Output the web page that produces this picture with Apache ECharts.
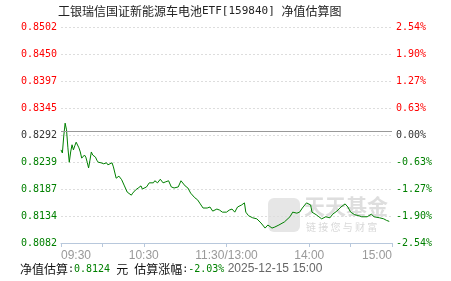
<!DOCTYPE html>
<html><head><meta charset="utf-8">
<script src="https://cdn.jsdelivr.net/npm/echarts@6/dist/echarts.min.js"></script>
<style>html,body{margin:0;padding:0;background:#fff}#c{width:451px;height:281px}</style>
</head><body><div id="c"></div>
<script>
var titleName = '工银瑞信国证新能源车电池';
var titleCode = 'ETF[159840] ';
var titleTail = '净值估算图';
var baseValue = 0.8292;
var yMin = 0.8082, yMax = 0.8502;
var leftTickValues = [0.8082, 0.81345, 0.8187, 0.82395, 0.8292, 0.83445, 0.8397, 0.84495, 0.8502];
var leftTickLabels = ['0.8082','0.8134','0.8187','0.8239','0.8292','0.8345','0.8397','0.8450','0.8502'];
var rightTickLabels = ['-2.54%','-1.90%','-1.27%','-0.63%','0.00%','0.63%','1.27%','1.90%','2.54%'];
var timeLabelMinutes = [0, 60, 120, 180, 240];
var timeLabels = ['09:30','10:30','11:30/13:00','14:00','15:00'];
var tickMinutes = [0, 30, 60, 120, 180, 210, 240];
var minutes = [0,1,2,3,4,5,6,7,8,9,10,11,13,14,15,17,18,19,20,21,22,23,25,26,27,29,31,33,34,35,37,38,39,40,42,44,46,48,51,52,54,56,58,59,62,64,67,68,70,72,74,76,78,80,82,85,87,90,92,94,97,99,101,103,106,108,110,113,115,117,120,122,124,126,128,131,133,134,136,139,142,145,148,150,153,155,158,162,166,168,171,173,175,178,179,181,182,185,187,189,192,195,197,200,203,206,208,210,213,216,218,222,225,227,231,234,236,238];
var navValues = [0.8263,0.8257,0.8290,0.8315,0.8302,0.8267,0.8239,0.8259,0.8273,0.8263,0.8271,0.8278,0.8267,0.8259,0.8247,0.8253,0.8249,0.8239,0.8228,0.8243,0.8259,0.8253,0.8249,0.8243,0.8239,0.8238,0.8236,0.8238,0.8234,0.8234,0.8238,0.8230,0.8228,0.8208,0.8212,0.8205,0.8193,0.8181,0.8175,0.8179,0.8185,0.8189,0.8193,0.8187,0.8191,0.8199,0.8199,0.8203,0.8199,0.8206,0.8199,0.8201,0.8203,0.8191,0.8189,0.8191,0.8203,0.8193,0.8189,0.8179,0.8170,0.8166,0.8158,0.8150,0.8150,0.8152,0.8144,0.8148,0.8146,0.8142,0.8142,0.8146,0.8148,0.8142,0.8152,0.8156,0.8160,0.8142,0.8135,0.8131,0.8129,0.8121,0.8111,0.8117,0.8111,0.8113,0.8117,0.8123,0.8133,0.8142,0.8140,0.8142,0.8150,0.8160,0.8162,0.8156,0.8142,0.8137,0.8133,0.8129,0.8133,0.8131,0.8138,0.8144,0.8152,0.8158,0.8152,0.8142,0.8137,0.8135,0.8133,0.8133,0.8138,0.8133,0.8131,0.8129,0.8126,0.8124];
var footNav = '0.8124', footChange = '-2.03%', footTime = '2025-12-15 15:00';

var RED = '#ff0000', GREEN = '#008000', DARK = '#333333';
function colorFor(i){ return i > 4 ? RED : (i < 4 ? GREEN : DARK); }
var monoFont = '"DejaVu Sans Mono", "Liberation Mono", monospace';
var cjkFont = '"Noto Sans CJK SC", sans-serif';

function richColors(){ var r = {}; for (var i = 0; i < 9; i++) r['c'+i] = {color: colorFor(i), fontSize: 10, fontFamily: monoFont}; return r; }

var chart = echarts.init(document.getElementById('c'), null, {renderer:'canvas'});
var seriesData = minutes.map(function(m, i){ return [m, navValues[i]]; });
chart.setOption({
  animation: false,
  backgroundColor: '#fff',
  grid: {left: 61, right: 59, top: 27, bottom: 38},
  xAxis: {
    type: 'value', min: 0, max: 240,
    axisLine: {show: true, lineStyle: {color: '#b8c8dc', width: 1}},
    axisTick: {show: true, length: 4, lineStyle: {color: '#b8c8dc'}, customValues: tickMinutes},
    splitLine: {show: false},
    axisLabel: {
      customValues: timeLabelMinutes, color: '#999', fontSize: 12, margin: 7,
      fontFamily: '"Liberation Sans", Arial, sans-serif',
      alignMinLabel: 'left', alignMaxLabel: 'right',
      formatter: function(v){ var k = timeLabelMinutes.indexOf(v); return k >= 0 ? timeLabels[k] : ''; }
    }
  },
  yAxis: [{
    type: 'value', min: yMin, max: yMax, position: 'left',
    axisLine: {show: false}, axisTick: {show: false, customValues: leftTickValues},
    splitLine: {show: true, lineStyle: {color: '#dddddd', type: [2, 2], width: 1}},
    axisLabel: {
      customValues: leftTickValues, margin: 4, fontSize: 10, fontFamily: monoFont,
      formatter: function(v){ var k = leftTickValues.indexOf(v); return '{c' + k + '|' + leftTickLabels[k] + '}'; },
      rich: richColors()
    }
  }, {
    type: 'value', min: yMin, max: yMax, position: 'right',
    axisLine: {show: false}, axisTick: {show: false, customValues: leftTickValues},
    splitLine: {show: false},
    axisLabel: {
      customValues: leftTickValues, margin: 4, fontSize: 10, fontFamily: monoFont,
      formatter: function(v){ var k = leftTickValues.indexOf(v); return '{c' + k + '|' + rightTickLabels[k] + '}'; },
      rich: richColors()
    }
  }],
  graphic: [
    {type: 'text', left: 58, top: 5, style: {
      text: '{a|' + titleName + '}{b|' + titleCode + '}{a|' + titleTail + '}',
      rich: {
        a: {fill: '#222', fontSize: 12, fontFamily: cjkFont},
        b: {fill: '#222', fontSize: 11, fontFamily: monoFont}
      }
    }},
    {type: 'group', left: 268, top: 196, z: -1, children: [
      {type: 'rect', shape: {x: 0, y: 2, width: 32, height: 34, r: 6}, style: {fill: 'rgba(200,200,200,0.45)'}},
      {type: 'text', style: {x: 36, y: 0, text: '天天基金', fill: 'rgba(190,190,190,0.5)', font: 'bold 21px "Noto Sans CJK SC", sans-serif'}},
      {type: 'text', style: {x: 38, y: 26, text: '链 接 您 与 财 富', fill: 'rgba(190,190,190,0.6)', font: '10px "Noto Sans CJK SC", sans-serif'}}
    ]},
    {type: 'text', left: 20, top: 263, style: {
      text: '{k|净值估算}{m|:}{g|' + footNav + '}{m| }{k|元}{m| }{k|估算涨幅}{m|:}{g|' + footChange + '}{t| ' + footTime + '}',
      rich: {
        k: {fill: '#111', fontSize: 12, fontFamily: cjkFont},
        m: {fill: '#111', fontSize: 10, fontFamily: monoFont},
        g: {fill: GREEN, fontSize: 10, fontFamily: monoFont},
        t: {fill: '#666', fontSize: 12, fontFamily: '"Liberation Sans", Arial, sans-serif'}
      }
    }}
  ],
  series: [{
    type: 'line', data: seriesData, showSymbol: false, symbol: 'none',
    lineStyle: {color: '#008000', width: 1}, z: 3,
    markLine: {silent: true, symbol: 'none', label: {show: false},
      lineStyle: {color: '#999999', type: 'solid', width: 1},
      data: [{yAxis: baseValue}]}
  }]
});
</script></body></html>
